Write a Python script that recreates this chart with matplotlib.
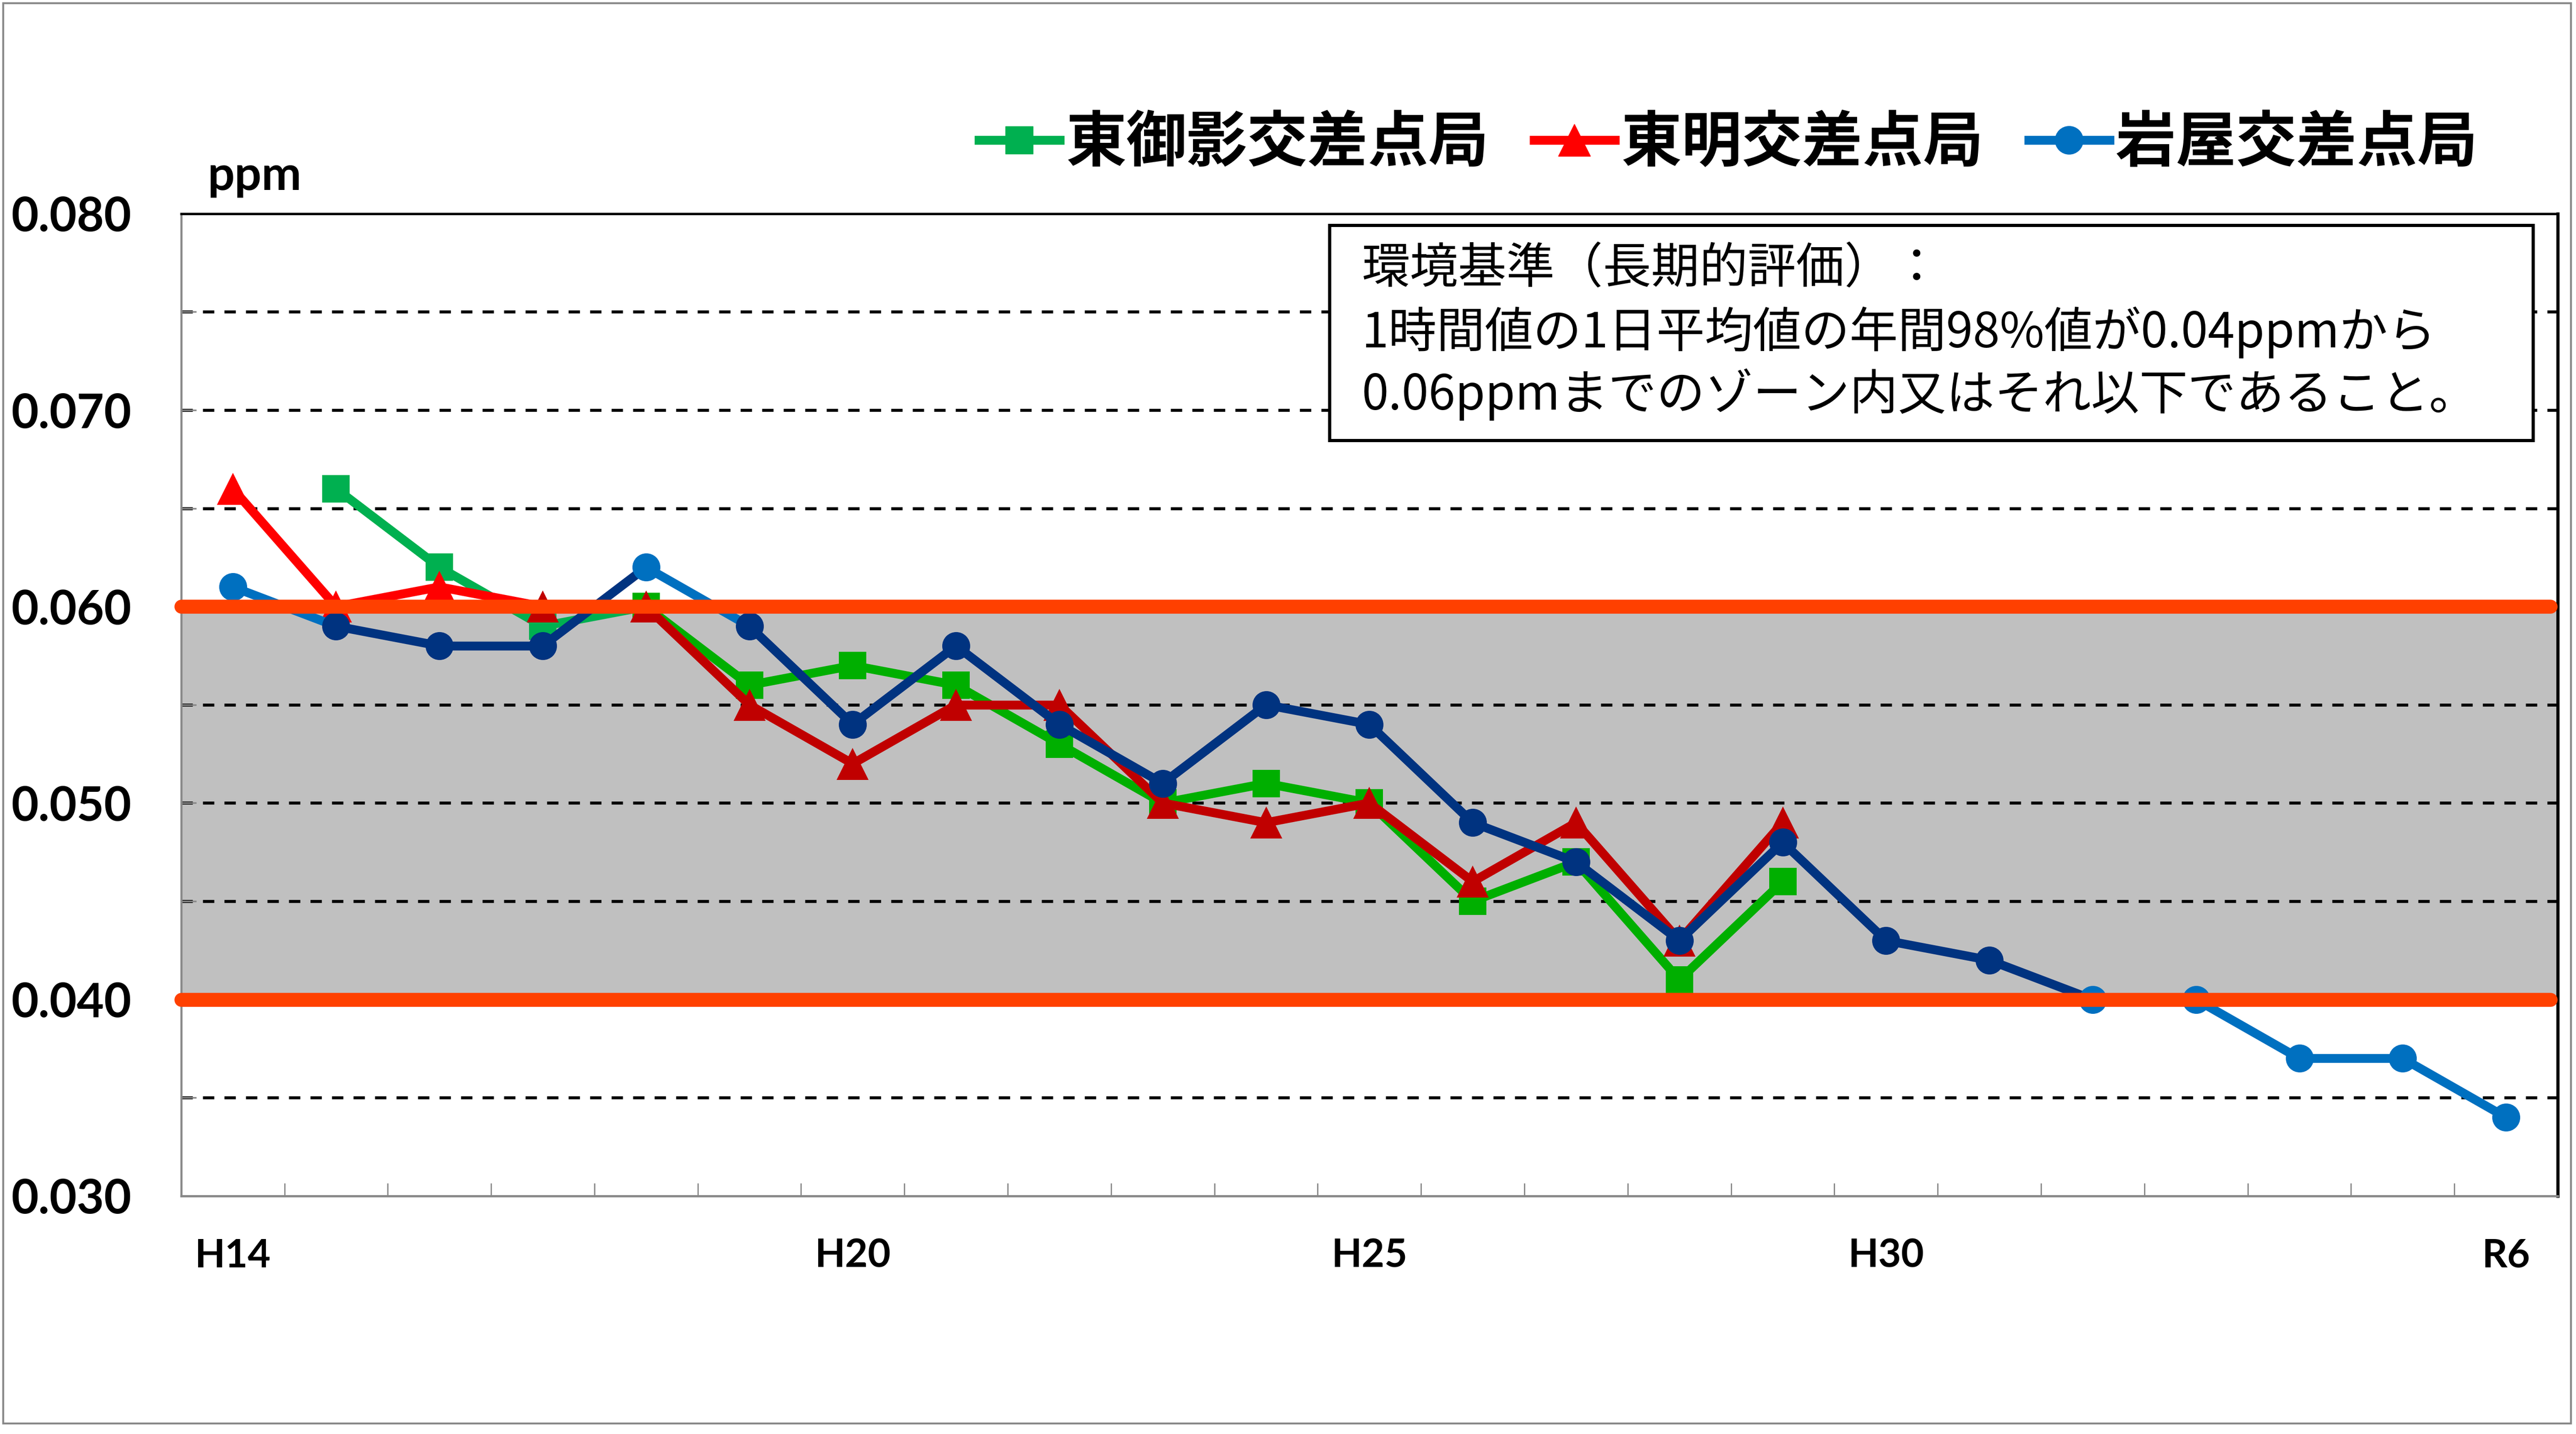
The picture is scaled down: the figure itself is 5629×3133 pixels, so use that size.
import matplotlib
matplotlib.use("Agg")
import matplotlib.pyplot as plt
from matplotlib.lines import Line2D
from matplotlib.patches import Rectangle
from matplotlib.font_manager import FontProperties
import numpy as np

plt.rcParams['font.family'] = ['Lato', 'Noto Sans CJK JP', 'DejaVu Sans']

# --- data ---
years = ["H14", "H15", "H16", "H17", "H18", "H19", "H20", "H21", "H22", "H23",
         "H24", "H25", "H26", "H27", "H28", "H29", "H30", "H31",
         "R2", "R3", "R4", "R5", "R6"]
shown_years = ["H14", "H20", "H25", "H30", "R6"]

nan = np.nan
mikage = [nan, 0.066, 0.062, 0.059, 0.060, 0.056, 0.057, 0.056, 0.053, 0.050,
          0.051, 0.050, 0.045, 0.047, 0.041, 0.046, nan, nan,
          nan, nan, nan, nan, nan]
akashi = [0.066, 0.060, 0.061, 0.060, 0.060, 0.055, 0.052, 0.055, 0.055, 0.050,
          0.049, 0.050, 0.046, 0.049, 0.043, 0.049, nan, nan,
          nan, nan, nan, nan, nan]
iwaya = [0.061, 0.059, 0.058, 0.058, 0.062, 0.059, 0.054, 0.058, 0.054, 0.051,
         0.055, 0.054, 0.049, 0.047, 0.043, 0.048, 0.043, 0.042,
         0.040, 0.040, 0.037, 0.037, 0.034]

labels = ["東御影交差点局", "東明交差点局", "岩屋交差点局"]

# colour of each point (and of the segment that starts there)
G1, G2 = "#00B050", "#00AF00"
R1, R2 = "#FF0000", "#C00000"
B1, B2 = "#0070C0", "#003380"
mikage_col = [G1] * 4 + [G2] * 19
akashi_col = [R1] * 3 + [R2] * 20
iwaya_col = [B1] + [B2] * 3 + [B1] + [B2] * 13 + [B1] * 5

std_low, std_high = 0.040, 0.060
grid_levels = [0.035, 0.045, 0.050, 0.055, 0.065, 0.070, 0.075]

box_lines = ["環境基準（長期的評価）：",
             "1時間値の1日平均値の年間98%値が0.04ppmから",
             "0.06ppmまでのゾーン内又はそれ以下であること。"]

# --- figure ---
fig = plt.figure(figsize=(56.29, 31.33), dpi=100)
ax = fig.add_axes([0.0703, 0.166, 0.9226, 0.685])
x = np.arange(len(years))

LW = 14
ax.axhspan(std_low, std_high, color="#C0C0C0", zorder=0)
for g in grid_levels:
    ax.axhline(g, color="black", lw=4.7, dashes=(3.8, 3.4), zorder=1)


def draw_series(vals, cols, marker, ms, z):
    v = np.array(vals)
    for i in range(len(v) - 1):
        if np.isnan(v[i]) or np.isnan(v[i + 1]):
            continue
        ax.plot(x[i:i + 2], v[i:i + 2], color=cols[i], lw=LW,
                solid_capstyle="round", zorder=z)
    for i in range(len(v)):
        if np.isnan(v[i]):
            continue
        ax.plot(x[i], v[i], marker=marker, ms=ms, color=cols[i],
                markeredgewidth=0, zorder=z + 0.5, linestyle="none")


draw_series(mikage, mikage_col, "s", 43, 3)
draw_series(akashi, akashi_col, "^", 50, 4)
draw_series(iwaya, iwaya_col, "o", 44, 5)

for lvl in (std_low, std_high):
    ax.plot([0, 0.997], [lvl, lvl], transform=ax.get_yaxis_transform(),
            color="#FF4000", lw=22, solid_capstyle="round", zorder=8,
            clip_on=False)

ax.set_xlim(-0.5, len(years) - 0.5)
ax.set_ylim(0.030, 0.080)

ax.set_yticks(np.arange(0.030, 0.0801, 0.010))
ax.set_yticklabels([f"{t:.3f}" for t in np.arange(0.030, 0.0801, 0.010)])
ax.set_yticks(np.arange(0.035, 0.080, 0.010), minor=True)
ax.tick_params(axis="y", which="both", direction="in", length=24, width=2.5,
               color="#888888")
ax.tick_params(axis="y", which="major", labelsize=74, pad=78)

ax.set_xticks([years.index(s) for s in shown_years])
ax.set_xticklabels(shown_years)
ax.set_xticks(np.arange(-0.5, len(years), 1.0), minor=True)
ax.tick_params(axis="x", which="major", length=0, labelsize=62, pad=66)
ax.tick_params(axis="x", which="minor", direction="in", length=20, width=2,
               color="#888888")
for lab in ax.get_xticklabels() + ax.get_yticklabels():
    lab.set_fontweight("bold")

ax.spines["left"].set_color("#888888")
ax.spines["left"].set_linewidth(3.3)
ax.spines["bottom"].set_color("#888888")
ax.spines["bottom"].set_linewidth(3.5)
ax.spines["top"].set_linewidth(3.8)
ax.spines["right"].set_linewidth(5)

fig.text(0.0805, 0.8675, "ppm", fontsize=75, fontweight="bold", va="baseline")

# standard text box
ax.add_patch(Rectangle((0.4832, 0.7693), 0.5064, 0.2191, transform=ax.transAxes,
                       facecolor="white", edgecolor="black", lw=5, zorder=9))
for ty, line in zip([0.9436, 0.8793, 0.8159], box_lines):
    ax.text(0.4968, ty, line, transform=ax.transAxes, fontsize=76,
            family=["Noto Sans CJK JP", "DejaVu Sans"], va="center",
            ha="left", zorder=10)

# legend
handles = [Line2D([], [], color=G1, lw=LW, marker="s", ms=43),
           Line2D([], [], color=R1, lw=LW, marker="^", ms=50),
           Line2D([], [], color=B1, lw=LW, marker="o", ms=44)]
fig.legend(handles, labels, loc="center right",
           bbox_to_anchor=(5415 / 5629, 0.900), ncol=3, frameon=False,
           prop=FontProperties(family="Noto Sans CJK JP", weight="bold", size=95),
           handlelength=1.34, handletextpad=0.1, columnspacing=0.75,
           borderpad=0, borderaxespad=0)

# outer frame
fig.patches.append(Rectangle((0.0013, 0.0073), 0.9967, 0.9905,
                             transform=fig.transFigure, fill=False,
                             edgecolor="#888888", lw=3))

fig.savefig("out.png", dpi=100, facecolor="white")
